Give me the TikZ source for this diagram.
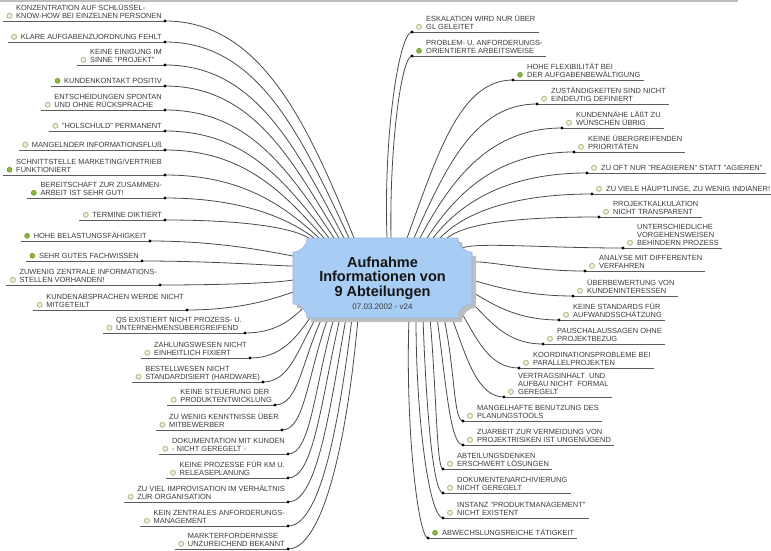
\documentclass[tikz,border=0pt]{standalone}
\usepackage{fontspec}
\setmainfont{Liberation Sans}
\usetikzlibrary{calc}
\pgfdeclarelayer{bg}
\pgfsetlayers{bg,main}
\definecolor{txtgray}{HTML}{3A3A3A}
\definecolor{ulgray}{HTML}{5C5C5C}
\definecolor{lingray}{HTML}{4A4A4A}
\definecolor{boxblue}{HTML}{A8CDF5}
\definecolor{boxedge}{HTML}{9AB6D8}
\definecolor{shadowgray}{HTML}{BEBEBE}
\definecolor{topbar}{HTML}{BDBDBD}
\definecolor{icgreen}{HTML}{8CB83C}
\definecolor{icgreendk}{HTML}{6A9228}
\definecolor{icpale}{HTML}{F0F0DC}
\definecolor{icpaledk}{HTML}{B9B98A}
\definecolor{titlecol}{HTML}{151515}
\newcommand{\LeafL}[8]{%
  \node[dotn] (#1d) at (#2,-#3) {};
  \node[leaf, anchor=south east] (#1t) at (#2-3,-#3+2.5) {#8};
  \node[#4] (#1i) at ([xshift=-6.5pt,yshift=2.7pt]#1t.south west) {};
  \coordinate (#1s) at (#5,-#6);
  \pgfmathsetmacro\kA{0.5*abs(#3-#6)+0.1*abs(#2-#5)}%
  \pgfmathsetmacro\kB{0.5*abs(#2-#5)}%
  \begin{pgfonlayer}{bg}
  \draw[conn] (#1s) .. controls ($(#1s)+(#7:\kA)$) and ($(#1d.center)+(\kB,0)$) .. (#1d.center);
  \draw[uline] ([xshift=-13pt,yshift=-2.5pt]#1t.south west) -- (#1d.center);
  \end{pgfonlayer}
}
\newcommand{\LeafR}[8]{%
  \node[dotn] (#1d) at (#2,-#3) {};
  \node[#4] (#1i) at (#2+7,-#3+5.2) {};
  \node[leaf, anchor=south west] (#1t) at (#2+14,-#3+2.5) {#8};
  \coordinate (#1s) at (#5,-#6);
  \pgfmathsetmacro\kA{0.5*abs(#3-#6)+0.1*abs(#2-#5)}%
  \pgfmathsetmacro\kB{0.5*abs(#2-#5)}%
  \begin{pgfonlayer}{bg}
  \draw[conn] (#1s) .. controls ($(#1s)+(#7:\kA)$) and ($(#1d.center)+(-\kB,0)$) .. (#1d.center);
  \draw[uline] (#1d.center) -- ([xshift=3pt,yshift=-2.5pt]#1t.south east);
  \end{pgfonlayer}
}
\begin{document}
\begin{tikzpicture}[x=1pt,y=1pt,
  leaf/.style={font=\fontsize{7.45}{8}\selectfont, text=txtgray, inner sep=0pt, align=left, text depth=0pt},
  dotn/.style={circle, fill=black, inner sep=0pt, minimum size=3.2pt},
  conn/.style={draw=lingray, line width=0.8pt},
  uline/.style={draw=ulgray, line width=0.7pt},
  icpos/.style={circle, fill=icgreen, draw=icgreendk, line width=0.5pt, inner sep=0pt, minimum size=5pt},
  icneu/.style={circle, fill=icpale, draw=icpaledk, line width=0.9pt, inner sep=0pt, minimum size=5pt},
  ttl/.style={font=\fontsize{14.5}{15}\selectfont\bfseries, text=titlecol, anchor=base, inner sep=0pt},
  datest/.style={font=\fontsize{8}{9}\selectfont, text=txtgray, anchor=base, inner sep=0pt}]
\useasboundingbox (0,0) rectangle (771,-551);
\fill[topbar] (0,0) rectangle (738,-2.5);

% left branches
\LeafL{L1}{165}{21}{icneu}{354}{238}{112}{KONZENTRATION AUF SCHLÜSSEL-\\KNOW-HOW BEI EINZELNEN PERSONEN}
\LeafL{L2}{165}{42}{icneu}{349}{238}{115}{KLARE AUFGABENZUORDNUNG FEHLT}
\LeafL{L3}{165}{65}{icneu}{344}{238}{118}{KEINE EINIGUNG IM\\SINNE "PROJEKT"}
\LeafL{L4}{165}{86}{icpos}{339}{238}{121}{KUNDENKONTAKT POSITIV}
\LeafL{L5}{165}{110}{icneu}{334}{238}{124}{ENTSCHEIDUNGEN SPONTAN\\UND OHNE RÜCKSPRACHE}
\LeafL{L6}{165}{131}{icneu}{329}{238}{128}{"HOLSCHULD" PERMANENT}
\LeafL{L7}{165}{150}{icneu}{324}{238}{132}{MANGELNDER INFORMATIONSFLUß}
\LeafL{L8}{165}{175}{icpos}{319}{238}{137}{SCHNITTSTELLE MARKETING/VERTRIEB\\FUNKTIONIERT}
\LeafL{L9}{165}{198}{icpos}{314}{238}{143}{BEREITSCHAFT ZUR ZUSAMMEN-\\ARBEIT IST SEHR GUT!}
\LeafL{L10}{165}{220}{icneu}{309}{238}{150}{TERMINE DIKTIERT}
\LeafL{L11}{150}{241}{icpos}{293}{256}{170}{HOHE BELASTUNGSFÄHIGKEIT}
\LeafL{L12}{142}{261}{icpos}{293}{266}{180}{SEHR GUTES FACHWISSEN}
\LeafL{L13}{160}{285}{icneu}{293}{280}{190}{ZUWENIG ZENTRALE INFORMATIONS-\\STELLEN VORHANDEN!}
\LeafL{L14}{187}{310}{icneu}{293}{292}{200}{KUNDENABSPRACHEN WERDE NICHT\\MITGETEILT}
\LeafL{L15}{245}{333}{icneu}{303}{308}{225}{QS EXISTIERT NICHT PROZESS- U.\\UNTERNEHMENSÜBERGREIFEND}
\LeafL{L16}{250}{358}{icneu}{310}{318}{235}{ZAHLUNGSWESEN NICHT\\EINHEITLICH FIXIERT}
\LeafL{L17}{263}{382}{icneu}{316}{318}{240}{BESTELLWESEN NICHT\\STANDARDISIERT (HARDWARE)}
\LeafL{L18}{275}{405}{icneu}{322}{318}{245}{KEINE STEUERUNG DER\\PRODUKTENTWICKLUNG}
\LeafL{L19}{282}{430}{icneu}{328}{318}{250}{ZU WENIG KENNTNISSE ÜBER\\MITBEWERBER}
\LeafL{L20}{288}{454}{icneu}{334}{318}{254}{DOKUMENTATION MIT KUNDEN\\- NICHT GEREGELT -}
\LeafL{L21}{288}{478}{icneu}{340}{318}{257}{KEINE PROZESSE FÜR KM U.\\RELEASEPLANUNG}
\LeafL{L22}{288}{502}{icneu}{346}{318}{260}{ZU VIEL IMPROVISATION IM VERHÄLTNIS\\ZUR ORGANISATION}
\LeafL{L23}{288}{526}{icneu}{352}{318}{263}{KEIN ZENTRALES ANFORDERUNGS-\\MANAGEMENT}
\LeafL{L24}{288}{549}{icneu}{358}{318}{265}{MARKTERFORDERNISSE\\UNZUREICHEND BEKANNT}

% right branches
\LeafR{R1}{412}{32}{icneu}{387}{238}{92}{ESKALATION WIRD NUR ÜBER\\GL GELEITET}
\LeafR{R2}{412}{56}{icpos}{391}{238}{91}{PROBLEM- U. ANFORDERUNGS-\\ORIENTIERTE ARBEITSWEISE}
\LeafR{R3}{513}{80}{icpos}{407}{238}{70}{HOHE FLEXIBILITÄT BEI\\DER AUFGABENBEWÄLTIGUNG}
\LeafR{R4}{537}{104}{icneu}{414}{238}{66}{ZUSTÄNDIGKEITEN SIND NICHT\\EINDEUTIG DEFINIERT}
\LeafR{R5}{562}{128}{icneu}{420}{238}{62}{KUNDENNÄHE LÄßT ZU\\WÜNSCHEN ÜBRIG}
\LeafR{R6}{574}{152}{icneu}{427}{238}{57}{KEINE ÜBERGREIFENDEN\\PRIORITÄTEN}
\LeafR{R7}{587}{173}{icneu}{433}{238}{52}{ZU OFT NUR "REAGIEREN" STATT "AGIEREN"}
\LeafR{R8}{592}{194}{icneu}{440}{238}{46}{ZU VIELE HÄUPTLINGE, ZU WENIG INDIANER!}
\LeafR{R9}{599}{217}{icneu}{447}{238}{38}{PROJEKTKALKULATION\\NICHT TRANSPARENT}
\LeafR{R10}{623}{248}{icneu}{462}{248}{22}{UNTERSCHIEDLICHE\\VORGEHENSWEISEN\\BEHINDERN PROZESS}
\LeafR{R11}{585}{271}{icneu}{472}{262}{5}{ANALYSE MIT DIFFERENTEN\\VERFAHREN}
\LeafR{R12}{573}{296}{icneu}{472}{280}{-15}{ÜBERBEWERTUNG VON\\KUNDENINTERESSEN}
\LeafR{R13}{559}{320}{icneu}{472}{292}{-30}{KEINE STANDARDS FÜR\\AUFWANDSSCHÄTZUNG}
\LeafR{R14}{543}{344}{icneu}{471}{302}{-45}{PAUSCHALAUSSAGEN OHNE\\PROJEKTBEZUG}
\LeafR{R15}{519}{368}{icneu}{460}{310}{-60}{KOORDINATIONSPROBLEME BEI\\PARALLELPROJEKTEN}
\LeafR{R16}{504}{397}{icneu}{452}{318}{-70}{VERTRAGSINHALT \ UND\\AUFBAU NICHT \ FORMAL\\GEREGELT}
\LeafR{R17}{463}{421}{icneu}{444}{318}{-78}{MANGELHAFTE BENUTZUNG DES\\PLANUNGSTOOLS}
\LeafR{R18}{463}{445}{icneu}{437}{318}{-82}{ZUARBEIT ZUR VERMEIDUNG VON\\PROJEKTRISIKEN IST UNGENÜGEND}
\LeafR{R19}{443}{469}{icneu}{430}{318}{-85}{ABTEILUNGSDENKEN\\ERSCHWERT LÖSUNGEN}
\LeafR{R20}{443}{493}{icneu}{423}{318}{-88}{DOKUMENTENARCHIVIERUNG\\NICHT GEREGELT}
\LeafR{R21}{443}{518}{icneu}{416}{318}{-90}{INSTANZ "PRODUKTMANAGEMENT"\\NICHT EXISTENT}
\LeafR{R22}{428}{538}{icpos}{409}{318}{-92}{ABWECHSLUNGSREICHE TÄTIGKEIT}

% central box
\fill[shadowgray, shift={(4,-4)}] (307,-238) -- (458,-238) arc[start angle=180,end angle=270,radius=14pt]
  -- (472,-304) arc[start angle=90,end angle=180,radius=14pt]
  -- (307,-318) arc[start angle=0,end angle=90,radius=14pt]
  -- (293,-252) arc[start angle=270,end angle=360,radius=14pt] -- cycle;
\filldraw[fill=boxblue, draw=boxedge, line width=0.6pt] (307,-238) -- (458,-238) arc[start angle=180,end angle=270,radius=14pt]
  -- (472,-304) arc[start angle=90,end angle=180,radius=14pt]
  -- (307,-318) arc[start angle=0,end angle=90,radius=14pt]
  -- (293,-252) arc[start angle=270,end angle=360,radius=14pt] -- cycle;
\node[minimum width=179pt, minimum height=80pt, inner sep=0pt] (box) at (382.5,-278) {};
\node[ttl] (t1) at (382.5,-267) {Aufnahme};
\node[ttl] (t2) at (382.5,-281.5) {Informationen von};
\node[ttl] (t3) at (382.5,-296) {9 Abteilungen};
\node[datest] (td) at (382.5,-309) {07.03.2002 - v24};
\end{tikzpicture}
\end{document}
